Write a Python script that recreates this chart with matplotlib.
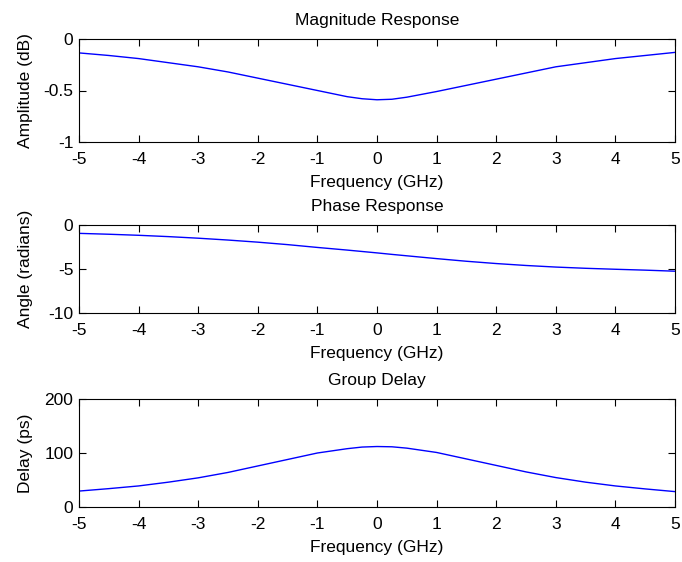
import numpy as np
import matplotlib.pyplot as plt

plt.rcParams['font.family'] = ['Liberation Sans', 'DejaVu Sans']
plt.rcParams['font.size'] = 12.5

# frequency axis (GHz)
freq = [-5, -4.5, -4, -3.5, -3, -2.5, -2, -1.5, -1, -0.5, -0.25, 0,
        0.25, 0.5, 1, 1.5, 2, 2.5, 3, 3.5, 4, 4.5, 5]

# magnitude (dB)
mag = [-0.135, -0.16, -0.19, -0.23, -0.27, -0.32, -0.38, -0.44, -0.50, -0.56, -0.58, -0.59,
       -0.585, -0.565, -0.51, -0.45, -0.39, -0.33, -0.27, -0.23, -0.19, -0.16, -0.13]

# phase (radians)
phase = [-0.95, -1.05, -1.17, -1.32, -1.50, -1.71, -1.95, -2.23, -2.55, -2.85, -3.01, -3.17,
         -3.34, -3.50, -3.82, -4.12, -4.38, -4.60, -4.78, -4.92, -5.03, -5.13, -5.25]

# group delay (ps)
delay = [29.5, 34, 39, 46, 54, 64, 76, 88, 100, 108, 111, 112,
         111.5, 109, 101, 89, 77, 65, 54.5, 46, 39, 33.5, 28.5]

fig = plt.figure(figsize=(6.82, 5.62), dpi=100)

# axes boxes in pixels: (top, bottom)
boxes = [(39, 142), (225, 313), (399, 507)]
titles = ["Magnitude Response", "Phase Response", "Group Delay"]
ylabels = ["Amplitude (dB)", "Angle (radians)", "Delay (ps)"]
ylims = [(-1, 0), (-10, 0), (0, 200)]
yticks = [[-1, -0.5, 0], [-10, -5, 0], [0, 100, 200]]
yticklabels = [["-1", "-0.5", "0"], ["-10", "-5", "0"], ["0", "100", "200"]]
series = [mag, phase, delay]

for i in range(3):
    top, bot = boxes[i]
    ax = fig.add_axes([79 / 682, (562 - bot) / 562, 596 / 682, (bot - top) / 562])
    ax.plot(freq, series[i], color="#0000ff", linewidth=1.0)
    ax.set_xlim(-5, 5)
    ax.set_ylim(*ylims[i])
    ax.set_xticks(range(-5, 6))
    ax.set_xticklabels([str(v) for v in range(-5, 6)])
    ax.set_yticks(yticks[i])
    ax.set_yticklabels(yticklabels[i])
    ax.tick_params(direction="in", top=True, right=True, length=5, width=0.8)
    ax.tick_params(axis="x", pad=7)
    ax.tick_params(axis="y", pad=4)
    for s in ax.spines.values():
        s.set_linewidth(0.8)
    ax.set_title(titles[i], fontsize=12.5, pad=10)
    ax.set_xlabel("Frequency (GHz)", labelpad=6)
    ax.set_ylabel(ylabels[i])
    ax.yaxis.set_label_coords(-0.078, 0.5)

fig.savefig("out.png", dpi=100)
